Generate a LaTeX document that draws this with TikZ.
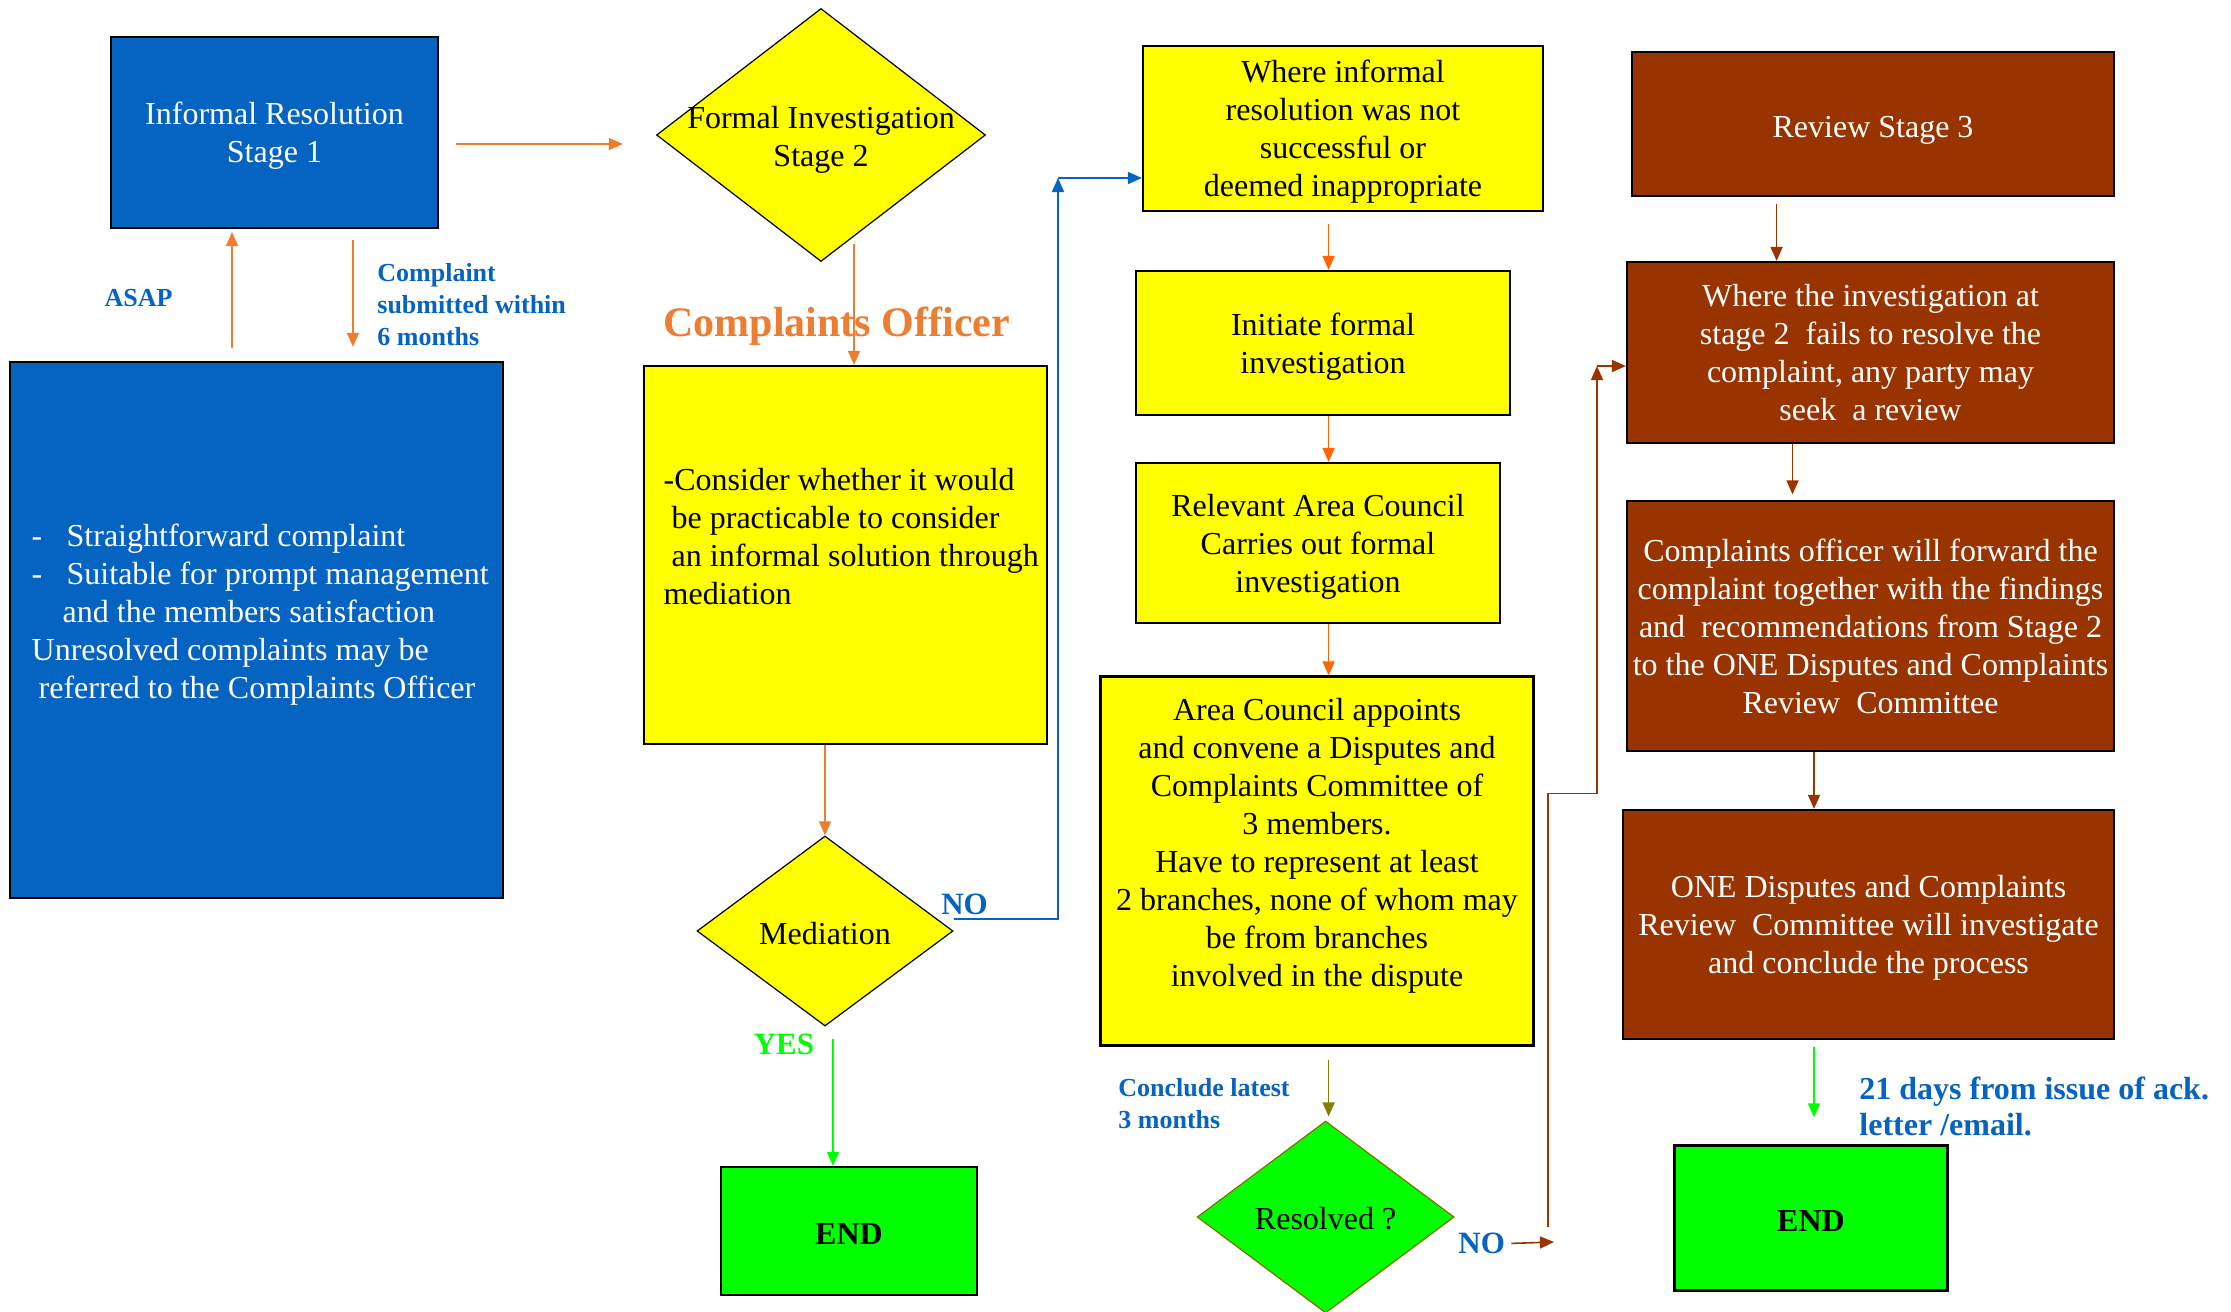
\documentclass[tikz,border=0pt]{standalone}
\usepackage{fontspec}
\setmainfont{Liberation Serif}
\usepackage{tikz}
\usetikzlibrary{arrows.meta,shapes.geometric}
\definecolor{stageblue}{RGB}{5,99,193}
\definecolor{labelblue}{RGB}{5,99,193}
\definecolor{reviewbrown}{RGB}{153,51,0}
\definecolor{flowyellow}{RGB}{255,255,0}
\definecolor{endgreen}{RGB}{0,255,0}
\definecolor{flowarrow}{RGB}{237,125,49}
\definecolor{stepred}{RGB}{255,102,0}
\definecolor{checkolive}{RGB}{128,112,0}
\definecolor{oliveline}{RGB}{128,128,0}

\begin{document}
\begin{tikzpicture}[x=0.5pt,y=-0.5pt,>={Triangle[length=7pt,width=6pt]},
  box/.style={draw=black,line width=1.1pt,align=center,inner sep=2pt,text depth=0pt,font=\fontsize{16}{19}\selectfont},
  bluebox/.style={box,fill=stageblue,text=white},
  yellowbox/.style={box,fill=flowyellow},
  brownbox/.style={box,fill=reviewbrown,text=white},
  endbox/.style={box,fill=endgreen,text height=13pt,font=\fontsize{16}{19}\selectfont\bfseries},
  decision/.style={diamond,draw=black,line width=0.6pt,fill=flowyellow,inner sep=0pt},
  decisiontext/.style={font=\fontsize{16}{19}\selectfont,align=center},
  note/.style={text=labelblue,font=\fontsize{13}{16}\selectfont\bfseries,align=left,inner sep=0pt},
  answer/.style={font=\fontsize{15.5}{18}\selectfont\bfseries,inner sep=0pt},
  link/.style={->,line width=0.8pt}]
  \path[use as bounding box,fill=white] (0,0) rectangle (2231,1311);

  % stage 1
  \node[bluebox,minimum width=163.5pt,minimum height=95.5pt] (stage1) at (274.5,132.5) {Informal Resolution\\Stage 1};
  \node[bluebox,minimum width=246.5pt,minimum height=268pt,align=left] (cases) at (256.75,630)
    {\hspace*{3.5pt}\makebox[17.5pt][l]{-}Straightforward complaint\\
     \hspace*{3.5pt}\makebox[17.5pt][l]{-}Suitable for prompt management\\
     \hspace*{19pt}and the members satisfaction\\
     \hspace*{3.5pt}Unresolved complaints may be\\
     \hspace*{7pt}referred to the Complaints Officer\\ \mbox{}};
  \node[note] (asap) at (138.5,298) {ASAP};
  \node[note,anchor=west] (within) at (377,305) {Complaint\\submitted within\\6 months};

  % stage 2
  \node[decision,minimum width=164.5pt,minimum height=126.5pt,
    label={[decisiontext,yshift=-2.5pt]center:{Formal Investigation\\Stage 2}}] (stage2) at (821,135) {};
  \node[font=\fontsize{21}{25}\selectfont\bfseries,text=flowarrow,inner sep=0pt] (officer) at (836.75,326) {Complaints Officer};
  \node[yellowbox,minimum width=201.5pt,minimum height=189pt,align=left] (consider) at (845.5,555)
    {\hspace*{5.7pt}-Consider whether it would\\
     \hspace*{5.7pt}\ be practicable to consider\\
     \hspace*{5.7pt}\ an informal solution through\\
     \hspace*{5.7pt}mediation\\ \mbox{}};
  \node[decision,minimum width=128pt,minimum height=95pt,
    label={[decisiontext,yshift=-1.4pt]center:Mediation}] (mediation) at (825,931) {};
  \node[answer,text=labelblue] (no1) at (964.5,904.5) {NO};
  \node[answer,text=endgreen] (yes) at (784,1044) {YES};
  \node[endbox,minimum width=128.25pt,minimum height=64pt] (endA) at (849,1231) {END};

  % formal investigation steps
  \node[yellowbox,minimum width=200pt,minimum height=82.5pt] (notresolved) at (1343,128.5)
    {Where informal\\resolution was not\\successful or\\deemed inappropriate};
  \node[yellowbox,minimum width=186.75pt,minimum height=72pt] (initiate) at (1323,343)
    {Initiate formal\\investigation};
  \node[yellowbox,minimum width=181.75pt,minimum height=80pt] (relevant) at (1318,543)
    {Relevant Area Council\\Carries out formal\\investigation};
  \node[yellowbox,minimum width=216.5pt,minimum height=184.5pt] (appoint) at (1317,861)
    {Area Council appoints\\and convene a Disputes and\\Complaints Committee of\\3 members.\\
     Have to represent at least\\2 branches, none of whom may\\be from branches\\involved in the dispute\\ \mbox{}};
  \node[note,anchor=west] (conclude) at (1118,1104) {Conclude latest\\3 months};
  \node[decision,draw=checkolive,fill=endgreen,minimum width=128.5pt,minimum height=96pt,
    label={[decisiontext,yshift=-0.7pt]center:Resolved ?}] (resolved) at (1325.6,1217) {};
  \node[answer,text=labelblue] (no2) at (1481.6,1243.6) {NO};

  % stage 3
  \node[brownbox,text height=14pt,minimum width=241pt,minimum height=72pt] (stage3) at (1873,124) {Review Stage 3};
  \node[brownbox,minimum width=243.5pt,minimum height=90.5pt] (seek) at (1870.5,352.5)
    {Where the investigation at\\stage 2 \ fails to resolve the\\complaint, any party may\\seek \ a review};
  \node[brownbox,minimum width=243.5pt,minimum height=125pt] (forward) at (1870.5,626)
    {Complaints officer will forward the\\complaint together with the findings\\and \ recommendations from Stage 2\\to the ONE Disputes and Complaints\\Review \ Committee};
  \node[brownbox,minimum width=245.5pt,minimum height=114.5pt] (committee) at (1868.5,924.5)
    {ONE Disputes and Complaints\\Review \ Committee will investigate\\and conclude the process};
  \node[note,anchor=west,font=\fontsize{16}{18}\selectfont\bfseries] (days) at (1859,1106)
    {21 days from issue of ack.\\letter /email.};
  \node[endbox,minimum width=136.5pt,minimum height=72.5pt] (endB) at (1811,1218) {END};

  \coordinate (colB) at (1328.6,0);
  \coordinate (noturn) at (1058,178);
  \coordinate (nohook) at (1554,1242);
  \coordinate (riseB) at (1548,1227);
  \coordinate (stepB) at (1597,793.5);
  \coordinate (turnB) at (1597,366);

  % connectors
  \draw[link,draw=flowarrow,shorten <=8.5pt,shorten >=16.5pt]
    ([yshift=-5.75pt]stage1.east) -- ([yshift=-5.75pt]stage1.east -| stage2.west);
  \draw[link,draw=flowarrow,shorten <=6.5pt,shorten >=1.5pt]
    ([xshift=-21.25pt]stage1.south |- cases.north) -- ([xshift=-21.25pt]stage1.south);
  \draw[link,draw=flowarrow,shorten <=5.5pt,shorten >=7pt]
    ([xshift=39.25pt]stage1.south) -- ([xshift=39.25pt]stage1.south |- cases.north);
  \draw[link,draw=flowarrow,shorten <=3.5pt] (stage2.-72) -- (stage2.-72 |- consider.north);
  \draw[link,draw=flowarrow] (consider.south -| mediation.north) -- (mediation.north);
  \draw[link,draw=labelblue] ([yshift=6pt]mediation.east) -| (noturn);
  \draw[link,draw=labelblue] (noturn) -- (noturn -| notresolved.west);
  \draw[link,draw=endgreen,shorten <=6pt]
    ([xshift=4pt]mediation.south) -- ([xshift=4pt]mediation.south |- endA.north);
  \draw[link,draw=stepred,shorten <=6pt] (notresolved.south -| colB) -- (initiate.north -| colB);
  \draw[link,draw=stepred] (initiate.south -| colB) -- (relevant.north -| colB);
  \draw[link,draw=stepred] (relevant.south -| colB) -- (appoint.north -| colB);
  \draw[link,draw=oliveline,shorten <=6.75pt,shorten >=2pt] (appoint.south -| colB) -- (resolved.north -| colB);
  \draw[link,draw=reviewbrown,shorten <=3pt] (no2.east) -- (nohook);
  \draw[link,draw=reviewbrown] (riseB) |- (stepB) -- (turnB);
  \draw[link,draw=reviewbrown] (turnB) -- (turnB -| seek.west);
  \draw[link,draw=reviewbrown,shorten <=3.5pt]
    ([xshift=-48.2pt]stage3.south) -- ([xshift=-48.2pt]stage3.south |- seek.north);
  \draw[link,draw=reviewbrown,shorten >=2.75pt]
    ([xshift=-39pt]seek.south) -- ([xshift=-39pt]seek.south |- forward.north);
  \draw[link,draw=reviewbrown]
    ([xshift=-28.25pt]forward.south) -- ([xshift=-28.25pt]forward.south |- committee.north);
  \draw[link,draw=endgreen,shorten <=3.3pt,shorten >=13.5pt]
    ([xshift=-27.25pt]committee.south) -- ([xshift=-27.25pt]committee.south |- endB.north);
\end{tikzpicture}
\end{document}
